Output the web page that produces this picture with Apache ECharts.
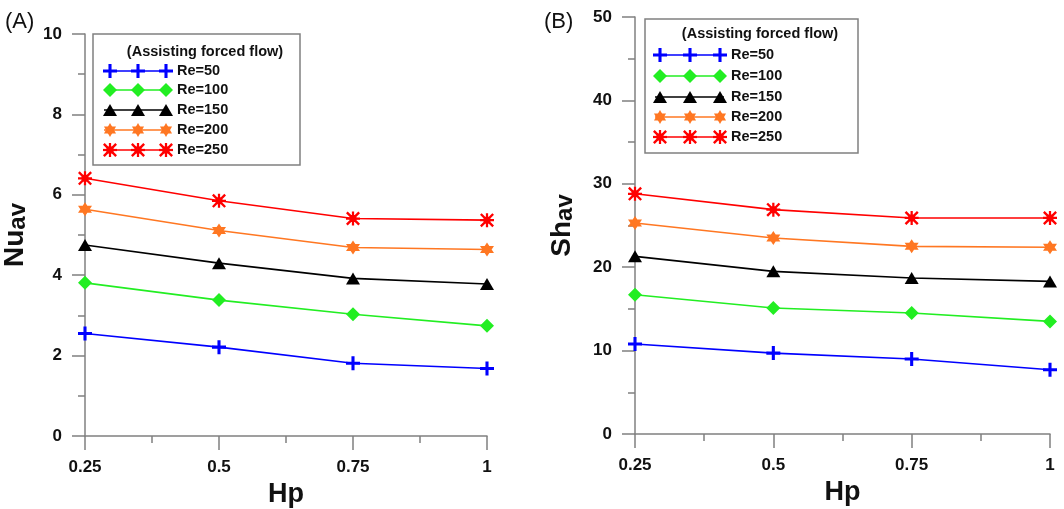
<!DOCTYPE html>
<html>
<head>
<meta charset="utf-8">
<script src="https://cdn.jsdelivr.net/npm/echarts@6/dist/echarts.min.js"></script>
<style>
  html, body { margin: 0; padding: 0; background: #fff; }
  #chart { width: 1064px; height: 509px; }
</style>
</head>
<body>
<div id="chart"></div>
<script>
// Dimensionless pin height values
const hp = [0.25, 0.5, 0.75, 1];
const seriesNames = ['Re=50', 'Re=100', 'Re=150', 'Re=200', 'Re=250'];

// Average Nusselt number (panel A)
const nu50  = [2.55, 2.21, 1.81, 1.68];
const nu100 = [3.81, 3.38, 3.03, 2.74];
const nu150 = [4.75, 4.30, 3.92, 3.78];
const nu200 = [5.64, 5.11, 4.69, 4.64];
const nu250 = [6.41, 5.85, 5.41, 5.37];

// Average Sherwood number (panel B)
const sh50  = [10.8, 9.7, 9.0, 7.7];
const sh100 = [16.7, 15.1, 14.5, 13.5];
const sh150 = [21.3, 19.5, 18.7, 18.3];
const sh200 = [25.3, 23.5, 22.5, 22.4];
const sh250 = [28.8, 26.9, 25.9, 25.9];

const nuTicks = [0, 2, 4, 6, 8, 10];
const shTicks = [0, 10, 20, 30, 40, 50];
const hpTicks = [0.25, 0.5, 0.75, 1];

const legendTitle = '(Assisting forced flow)';

// Marker outlines as polygons in a 100x100 box
const markerShapes = {
  plus: [[[39,0],[61,0],[61,39],[100,39],[100,61],[61,61],[61,100],[39,100],[39,61],[0,61],[0,39],[39,39]]],
  diamond: [[[50,0],[100,50],[50,100],[0,50]]],
  triangle: [[[50,0],[100,100],[0,100]]],
  star6: [[[50,0],[93.3,75],[6.7,75]], [[50,100],[6.7,25],[93.3,25]]],
  aster: [
    [[0,42],[100,42],[100,58],[0,58]],
    [[42,0],[58,0],[58,100],[42,100]],
    [[12,0],[100,88],[88,100],[0,12]],
    [[88,0],[100,12],[12,100],[0,88]],
    [[25,25],[75,25],[75,75],[25,75]]
  ]
};
function shapeToPath(polys) {
  return 'path://' + polys.map(p => 'M' + p.map(q => q[0] + ',' + q[1]).join(' L') + ' Z').join(' ');
}

const styles = [
  { color: '#0000ff', marker: 'plus', size: [14, 14] },
  { color: '#22ee22', marker: 'diamond', size: [14, 14] },
  { color: '#000000', marker: 'triangle', size: [14, 12] },
  { color: '#ff7722', marker: 'star6', size: [14, 14] },
  { color: '#ff0000', marker: 'aster', size: [14, 14] }
];

const axisGrey = '#808080';
const font = 'Liberation Sans, Arial, sans-serif';

function xAxisFor(gridIndex) {
  return {
    type: 'value', gridIndex: gridIndex,
    min: 0.25, max: 1, interval: 0.25,
    name: 'Hp', nameLocation: 'middle', nameGap: 40,
    nameTextStyle: { fontFamily: font, fontWeight: 'bold', fontSize: 27, color: '#111' },
    axisLine: { show: true, lineStyle: { color: axisGrey, width: 1.5 } },
    axisTick: { show: true, length: 14, lineStyle: { color: axisGrey, width: 1.5 } },
    minorTick: { show: true, splitNumber: 2, length: 7, lineStyle: { color: axisGrey, width: 1.5 } },
    splitLine: { show: false },
    axisLabel: {
      margin: 23, fontFamily: font, fontWeight: 'bold', fontSize: 17, color: '#111',
      formatter: function (v) {
        const hit = hpTicks.find(t => Math.abs(t - v) < 1e-9);
        return hit === undefined ? '' : String(hit);
      }
    }
  };
}

function yAxisFor(gridIndex, ticks, nameRich, gap) {
  return {
    type: 'value', gridIndex: gridIndex,
    min: ticks[0], max: ticks[ticks.length - 1], interval: ticks[1] - ticks[0],
    name: nameRich, nameLocation: 'middle', nameGap: gap, nameRotate: 90,
    nameTextStyle: {
      fontFamily: font, fontWeight: 'bold', color: '#111',
      rich: {
        m: { fontFamily: font, fontWeight: 'bold', fontSize: 28, color: '#111' },
        s: { fontFamily: font, fontWeight: 'bold', fontSize: 24, color: '#111', padding: [6, 0, 0, 0] }
      }
    },
    axisLine: { show: true, lineStyle: { color: axisGrey, width: 1.5 } },
    axisTick: { show: true, length: 13, lineStyle: { color: axisGrey, width: 1.5 } },
    minorTick: { show: true, splitNumber: 2, length: 7, lineStyle: { color: axisGrey, width: 1.5 } },
    splitLine: { show: false },
    axisLabel: { margin: 23, fontFamily: font, fontWeight: 'bold', fontSize: 17, color: '#111' }
  };
}

function lineSeries(name, values, idx, axisIndex) {
  const st = styles[idx];
  return {
    type: 'line', name: name,
    xAxisIndex: axisIndex, yAxisIndex: axisIndex,
    data: hp.map((x, i) => [x, values[i]]),
    symbol: shapeToPath(markerShapes[st.marker]),
    symbolSize: st.size,
    symbolKeepAspect: false,
    showSymbol: true,
    clip: false,
    lineStyle: { color: st.color, width: 1.6 },
    itemStyle: { color: st.color, borderWidth: 0 },
    z: 3 + idx
  };
}

// Legend box with a sample line carrying three markers per entry
function legendBlock(box, titleX, titleY, lineX0, lineX1, markerXs, textX, rowYs) {
  const els = [{
    type: 'rect',
    shape: { x: box[0], y: box[1], width: box[2], height: box[3] },
    style: { fill: '#fff', stroke: axisGrey, lineWidth: 1.5 },
    z: 10
  }, {
    type: 'text', x: titleX, y: titleY, z: 11,
    style: {
      text: legendTitle, fontFamily: font, fontWeight: 'bold', fontSize: 14.5,
      fill: '#111', align: 'center', verticalAlign: 'middle'
    }
  }];
  seriesNames.forEach((name, i) => {
    const st = styles[i];
    const y = rowYs[i];
    els.push({
      type: 'line', z: 11,
      shape: { x1: lineX0, y1: y, x2: lineX1, y2: y },
      style: { stroke: st.color, lineWidth: 1.6 }
    });
    markerXs.forEach(mx => {
      const x0 = mx - st.size[0] / 2, y0 = y - st.size[1] / 2;
      markerShapes[st.marker].forEach(poly => {
        els.push({
          type: 'polygon', z: 12,
          shape: { points: poly.map(q => [x0 + q[0] / 100 * st.size[0], y0 + q[1] / 100 * st.size[1]]) },
          style: { fill: st.color }
        });
      });
    });
    els.push({
      type: 'text', x: textX, y: y, z: 11,
      style: {
        text: name, fontFamily: font, fontWeight: 'bold', fontSize: 14.5,
        fill: '#111', align: 'left', verticalAlign: 'middle'
      }
    });
  });
  return els;
}

const chart = echarts.init(document.getElementById('chart'), null, { renderer: 'canvas' });

const nuSets = [nu50, nu100, nu150, nu200, nu250];
const shSets = [sh50, sh100, sh150, sh200, sh250];

const option = {
  backgroundColor: '#fff',
  animation: false,
  grid: [
    { left: 85, right: 577, top: 34, bottom: 73, outerBoundsMode: 'none', containLabel: false },
    { left: 635, right: 14, top: 17, bottom: 75, outerBoundsMode: 'none', containLabel: false }
  ],
  xAxis: [xAxisFor(0), xAxisFor(1)],
  yAxis: [
    yAxisFor(0, nuTicks, '{m|Nu}{s|av}', 55),
    yAxisFor(1, shTicks, '{m|Sh}{s|av}', 58)
  ],
  series: [
    ...nuSets.map((v, i) => lineSeries(seriesNames[i], v, i, 0)),
    ...shSets.map((v, i) => lineSeries(seriesNames[i], v, i, 1))
  ],
  graphic: [
    { type: 'text', x: 5, y: 22, style: { text: '(A)', fontFamily: font, fontSize: 22, fill: '#111', verticalAlign: 'middle' } },
    { type: 'text', x: 544, y: 22, style: { text: '(B)', fontFamily: font, fontSize: 22, fill: '#111', verticalAlign: 'middle' } },
    ...legendBlock([93, 34, 207, 131], 205, 52, 104, 168, [110, 138, 166], 177, [71, 90, 110, 130, 150]),
    ...legendBlock([645, 19, 213, 134], 760, 34, 655, 724, [660, 690, 720], 731, [55, 76, 97, 117, 137])
  ]
};

chart.setOption(option);
</script>
</body>
</html>
